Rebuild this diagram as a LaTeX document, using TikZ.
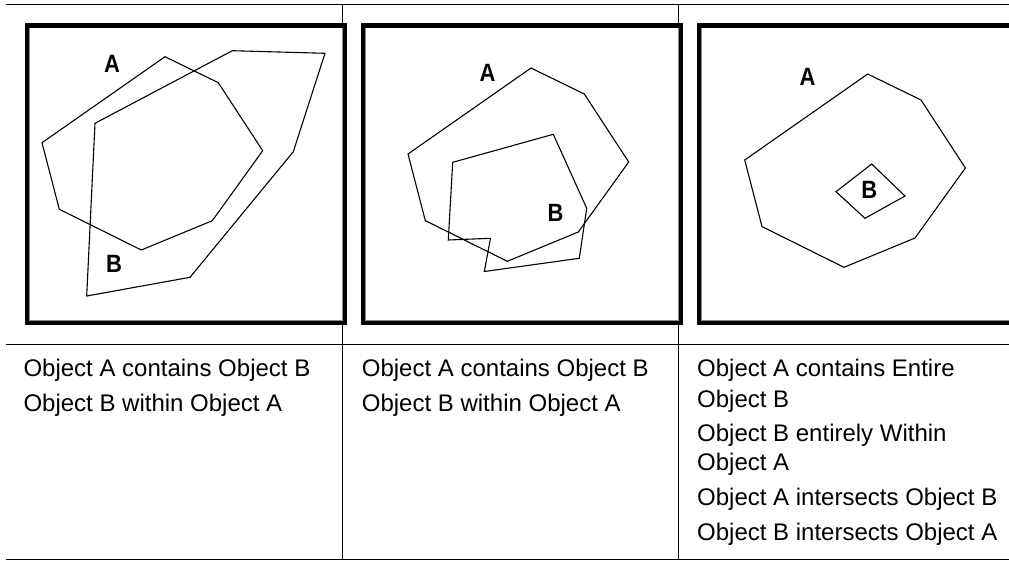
\documentclass[tikz,border=0pt]{standalone}
\usepackage{fontspec}
\setmainfont{Liberation Sans}
\begin{document}
\begin{tikzpicture}[x=1pt,y=-1pt,
  rule/.style={black,line width=1pt},
  frameouter/.style={black,line width=4.2pt},
  frameinner/.style={black!45,line width=0.9pt},
  shapeline/.style={black,line width=1.1pt,line join=miter},
  lbl/.style={font=\fontsize{25}{27}\selectfont\bfseries,inner sep=0pt,xscale=0.88},
  cell/.style={font=\fontsize{24}{29}\selectfont,inner sep=0pt,anchor=base west}]
\useasboundingbox (0,0) rectangle (1009,560);
\fill[white] (0,0) rectangle (1009,560);
\begin{scope}
\clip (0,0) rectangle (1009,560);
% table rules
\draw[rule] (6,4.3) -- (1009,4.3);
\draw[rule] (6,344.3) -- (1009,344.3);
\draw[rule] (6,559) -- (1009,559);
\draw[rule] (342.7,4.3) -- (342.7,559);
\draw[rule] (678.3,4.3) -- (678.3,559);
% frames
\foreach \fx in {27,362.8,698.7}{
  \fill[white] (\fx,25.5) rectangle ++(318.3,297.5);
  \draw[frameinner] (\fx+2.4,25.5+2.4) rectangle ++(313.5,292.7);
  \draw[frameouter] (\fx,25.5) rectangle ++(318.3,297.5);
}
% panel 1
\draw[shapeline] (165,56.7) -- (218.3,82.7) -- (262.7,150.7) -- (212.3,220.7) -- (141.3,250) -- (59.3,209.3) -- (42,142.7) -- cycle;
\draw[shapeline] (232.3,50.7) -- (325,53.3) -- (293.3,151.7) -- (190,277.3) -- (86.7,296) -- (95,123.3) -- cycle;
\node[lbl] (a1) at (112,64) {A};
\node[lbl] (b1) at (114,264) {B};
% panel 2
\begin{scope}[shift={(366,11.3)}]
\draw[shapeline] (165,56.7) -- (218.3,82.7) -- (262.7,150.7) -- (212.3,220.7) -- (141.3,250) -- (59.3,209.3) -- (42,142.7) -- cycle;
\end{scope}
\draw[shapeline] (452.7,162.3) -- (553.3,134.3) -- (586.7,208.3) -- (579.3,258.3) -- (484.3,271.5) -- (490.5,238.3) -- (448.3,240) -- cycle;
\node[lbl] (a2) at (487.5,72.5) {A};
\node[lbl] (b2) at (555.5,213.3) {B};
% panel 3
\begin{scope}[shift={(702.7,17.3)}]
\draw[shapeline] (165,56.7) -- (218.3,82.7) -- (262.7,150.7) -- (212.3,220.7) -- (141.3,250) -- (59.3,209.3) -- (42,142.7) -- cycle;
\end{scope}
\draw[shapeline] (871.7,164) -- (905,196) -- (865,218.3) -- (836,191.7) -- cycle;
\node[lbl] (a3) at (807.5,77) {A};
\node[lbl] (b3) at (869.3,190) {B};
\end{scope}
% texts
\node[cell] (t11) at (23.3,376.7) {Object A contains Object B};
\node[cell] (t12) at (23.3,411.7) {Object B within Object A};
\node[cell] (t21) at (361.7,376.7) {Object A contains Object B};
\node[cell] (t22) at (361.7,411.7) {Object B within Object A};
\node[cell] (t31) at (697,376.7) {Object A contains Entire};
\node[cell] (t32) at (697,407.3) {Object B};
\node[cell] (t33) at (697,441.7) {Object B entirely Within};
\node[cell] (t34) at (697,470.7) {Object A};
\node[cell] (t35) at (697,505.7) {Object A intersects Object B};
\node[cell] (t36) at (697,540) {Object B intersects Object A};
\end{tikzpicture}
\end{document}
